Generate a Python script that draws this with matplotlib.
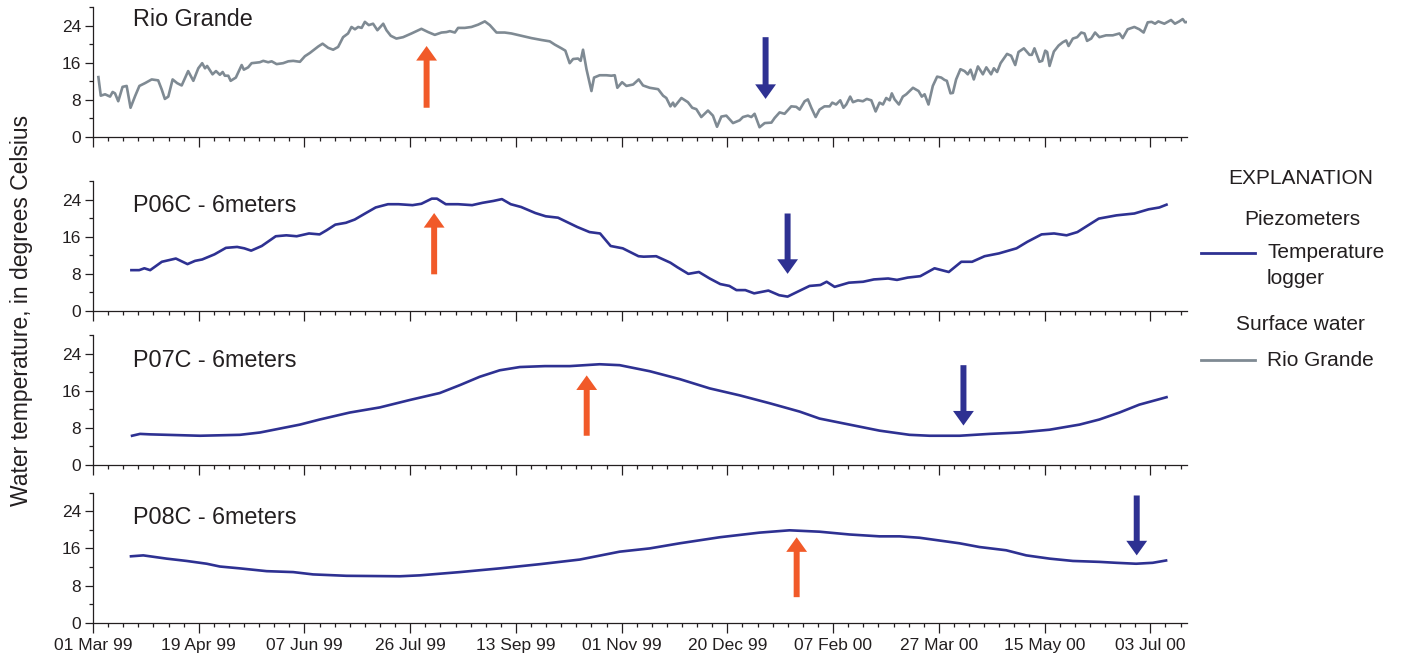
import datetime as dt
import numpy as np
import matplotlib
matplotlib.use("Agg")
import matplotlib.pyplot as plt
import matplotlib.dates as mdates
from matplotlib.lines import Line2D
from matplotlib.ticker import FixedLocator, NullFormatter

plt.rcParams['font.family'] = ['Liberation Sans', 'DejaVu Sans']

# ---------------- data (days after 01 Mar 1999, deg C) ----------------
start_date = "1999-03-01"

rio_days = [2.5, 3.6, 5.6, 7.9, 9.1, 10.2, 11.7, 13.7, 15.6, 17.4,
            19.5, 21.5, 24.1, 27.2, 30.2, 31.8, 33.3, 34.9, 36.9, 39.0,
            41.1, 44.1, 46.5, 48.8, 50.6, 51.9, 52.9, 55.4, 57.0, 58.8,
            60.1, 61.1, 62.7, 63.8, 66.2, 68.9, 69.9, 71.9, 73.5, 77.3,
            78.9, 81.2, 82.8, 85.1, 88.1, 90.5, 92.8, 95.9, 98.2, 100.5,
            104.4, 106.4, 109.0, 111.3, 113.6, 115.9, 118.2, 119.8, 121.4, 122.9,
            124.5, 126.0,
            127.8, 129.8, 131.8, 134.5, 136.0, 138.0, 140.6, 143.7, 147.6, 152.2,
            155.3, 158.4, 161.5, 163.8, 165.4, 167.7, 169.2, 172.3, 175.4, 178.5,
            181.6, 183.9, 187.0, 190.8, 193.9, 198.5, 203.2, 207.8, 211.7, 214.0,
            217.1, 218.9, 220.9, 222.5, 224.8, 226.0, 227.1, 228.7, 231.0, 232.2,
            234.8, 237.9, 240.2, 241.8, 243.0, 245.2, 247.2, 250.3, 252.9,
            254.9, 258.0, 261.9, 264.2, 265.7, 267.6, 268.8, 269.6, 272.7, 275.7,
            277.7, 279.6, 281.9, 285.0, 287.3, 289.2, 291.2, 293.5, 296.6, 299.7,
            301.2, 303.5, 305.1, 306.6, 308.9, 311.3, 314.4, 315.9, 318.2, 320.5,
            323.6, 325.9, 327.5, 329.8, 331.3, 332.9, 334.9, 336.7, 339.0, 341.4,
            342.6, 344.4, 346.3, 347.8, 349.1, 350.9, 352.2, 354.5, 356.8, 358.6,
            360.7, 362.7, 364.5, 366.1, 367.6, 369.2, 370.2, 371.5, 373.5, 375.3,
            376.9, 380.0,
            382.6, 384.1, 385.4, 387.2, 389.2, 391.2, 393.1, 394.6, 395.7, 397.4,
            398.5, 400.0, 402.0, 403.9, 405.4, 406.7, 408.2, 410.1, 412.4, 414.0,
            416.2, 417.5, 419.0, 420.6, 423.6, 425.5, 427.4, 428.9, 431.4, 434.0,
            435.1, 436.3, 438.6, 439.9, 441.3, 442.2, 443.3, 445.3, 447.5, 449.4,
            451.0, 452.1, 454.1, 456.1, 458.0, 459.5, 460.7, 462.6, 464.4, 466.4,
            469.5, 472.6, 475.7, 477.2, 479.5, 482.6, 484.9, 486.9, 488.8, 490.6,
            492.2, 493.7, 496.5, 499.6, 501.4, 503.4, 505.0, 506.1, 507.3]
rio_temp = [12.9, 8.9, 9.2, 8.7, 9.7, 9.4, 7.7, 10.8, 11.0, 6.3,
            8.8, 11.0, 11.6, 12.4, 12.2, 10.3, 8.2, 8.7, 12.4, 11.6,
            11.1, 14.2, 12.1, 14.8, 15.9, 14.8, 15.3, 13.5, 14.2, 13.4,
            14.0, 13.2, 13.2, 12.1, 12.8, 15.5, 14.5, 15.0, 15.9, 16.1,
            16.4, 16.1, 16.3, 15.7, 15.9, 16.3, 16.4, 16.2, 17.4, 18.1,
            19.5, 20.1, 19.2, 18.8, 19.4, 21.5, 22.3, 23.7, 23.2, 23.7,
            23.5, 24.8,
            24.1, 24.4, 23.0, 24.4, 23.0, 21.8, 21.2, 21.5, 22.3, 23.3,
            22.6, 22.0, 22.5, 22.6, 22.8, 22.5, 23.5, 23.5, 23.7, 24.2,
            24.9, 24.1, 22.5, 22.5, 22.3, 21.8, 21.3, 20.9, 20.6, 19.9,
            19.1, 18.6, 15.9, 16.8, 16.9, 16.4, 18.8, 14.6, 9.9, 12.8,
            13.3, 13.3, 13.2, 13.3, 10.6, 11.8, 11.0, 11.3, 12.4,
            11.1, 10.6, 10.3, 8.9, 8.4, 6.6, 7.4, 6.6, 8.4, 7.5,
            6.3, 6.0, 4.3, 5.7, 4.6, 2.2, 4.4, 4.6, 3.0, 3.6,
            4.3, 4.6, 4.3, 5.0, 2.1, 3.0, 3.1, 4.1, 5.3, 5.0,
            6.6, 6.5, 5.9, 7.7, 8.1, 6.3, 4.3, 5.9, 6.6, 6.6,
            7.4, 7.0, 7.9, 6.3, 7.0, 8.7, 7.5, 7.9, 7.7, 8.2,
            7.9, 5.5, 7.4, 7.0, 8.4, 7.9, 9.4, 8.1, 7.0, 8.7,
            9.2, 10.6,
            9.9, 8.7, 9.2, 7.0, 11.0, 13.0, 12.8, 12.3, 12.1, 9.4,
            9.5, 12.4, 14.6, 14.2, 13.5, 14.5, 12.4, 15.2, 13.5, 15.0,
            13.5, 14.8, 14.0, 15.9, 17.9, 17.5, 15.5, 18.3, 19.1, 17.7,
            17.7, 19.1, 16.2, 16.4, 18.6, 18.3, 15.3, 18.4, 19.7, 20.4,
            20.8, 19.6, 21.2, 21.5, 22.5, 22.3, 20.7, 21.2, 22.5, 21.5,
            21.9, 21.9, 22.3, 21.3, 23.2, 23.7, 23.2, 22.5, 24.7, 24.8,
            24.4, 24.9, 24.4, 25.2, 24.4, 24.9, 25.4, 24.7, 24.8]

p06_days = [17.8, 21.4, 23.8, 26.5, 31.9, 38.4, 43.8, 47.3, 50.6, 56.3,
            61.6, 66.8, 70.1, 73.3, 78.2, 84.7, 89.6, 94.4, 100.1, 105.0,
            108.3, 112.3, 117.2, 121.3, 126.1, 131.0, 136.7, 141.6, 148.1, 152.2,
            157.0, 159.4, 163.5, 169.2, 175.7, 180.5, 185.5, 189.5, 193.6, 198.4,
            205.0, 209.8, 215.5, 219.5, 224.4, 230.1, 235.0, 239.9, 245.5, 252.8,
            255.2, 261.0, 267.6, 270.9, 275.9, 280.8, 285.8, 290.7, 294.9, 298.2,
            302.3, 306.4, 313.0, 318.0, 321.9, 326.3, 332.1, 337.1, 340.0, 343.7,
            350.3, 356.9, 361.9, 368.5, 372.6, 377.6, 383.4, 390.0, 396.6, 402.4,
            407.4, 413.2, 419.8, 428.0, 433.0, 439.6, 445.4, 451.2, 456.2, 466.1,
            474.3, 482.6, 489.2, 494.2, 497.5]
p06_temp = [8.8, 8.8, 9.2, 8.8, 10.6, 11.3, 10.1, 10.8, 11.1, 12.2,
            13.6, 13.8, 13.5, 13.0, 14.0, 16.1, 16.3, 16.1, 16.7, 16.5,
            17.4, 18.6, 19.0, 19.7, 21.0, 22.3, 23.0, 23.0, 22.8, 23.1,
            24.2, 24.2, 23.0, 23.0, 22.8, 23.3, 23.7, 24.1, 23.0, 22.4,
            21.1, 20.4, 20.1, 19.2, 18.1, 17.0, 16.7, 14.0, 13.5, 11.8,
            11.7, 11.8, 10.4, 9.4, 8.0, 8.4, 7.0, 5.8, 5.4, 4.5,
            4.5, 3.8, 4.4, 3.4, 3.1, 4.1, 5.4, 5.6, 6.3, 5.2,
            6.1, 6.3, 6.8, 7.0, 6.7, 7.2, 7.5, 9.2, 8.4, 10.6,
            10.6, 11.8, 12.4, 13.5, 14.9, 16.5, 16.7, 16.3, 17.0, 19.9,
            20.6, 21.0, 21.9, 22.3, 22.9]

p07_days = [18.1, 21.8, 26.4, 49.6, 68.1, 77.4, 95.9, 105.1, 119.0, 132.9,
            146.8, 160.7, 170.0, 179.2, 188.5, 197.8, 209.4, 221.0, 234.8, 244.1,
            258.0, 271.9, 285.8, 299.7, 313.6, 327.5, 336.7, 350.6, 364.5, 378.4,
            387.7, 401.6, 415.5, 429.4, 443.3, 457.2, 466.4, 475.7, 484.9, 497.5]
p07_temp = [6.3, 6.7, 6.6, 6.3, 6.5, 7.0, 8.7, 9.8, 11.3, 12.4,
            14.0, 15.5, 17.2, 19.0, 20.4, 21.1, 21.3, 21.3, 21.7, 21.5,
            20.2, 18.5, 16.5, 15.0, 13.3, 11.5, 10.0, 8.7, 7.4, 6.5,
            6.3, 6.3, 6.7, 7.0, 7.6, 8.7, 9.8, 11.3, 13.0, 14.6]

p08_days = [17.6, 23.3, 34.1, 43.4, 52.7, 58.8, 68.1, 80.5, 92.8, 102.0,
            117.5, 142.2, 151.5, 170.0, 188.5, 207.0, 225.6, 244.1, 258.0, 271.9,
            290.4, 308.9, 322.8, 336.7, 350.6, 364.5, 373.8, 383.0, 392.3, 401.6,
            410.8, 423.2, 432.5, 443.3, 454.1, 466.4, 474.2, 483.4, 491.1, 497.3]
p08_temp = [14.3, 14.5, 13.8, 13.3, 12.7, 12.1, 11.7, 11.1, 10.9, 10.4,
            10.1, 10.0, 10.2, 10.9, 11.7, 12.6, 13.6, 15.3, 16.0, 17.1,
            18.4, 19.4, 19.9, 19.6, 19.0, 18.6, 18.6, 18.3, 17.7, 17.1,
            16.3, 15.6, 14.5, 13.8, 13.3, 13.1, 12.9, 12.7, 12.9, 13.4]

panel_titles = ["Rio Grande", "P06C - 6meters", "P07C - 6meters", "P08C - 6meters"]
tick_labels = ["01 Mar 99", "19 Apr 99", "07 Jun 99", "26 Jul 99", "13 Sep 99",
               "01 Nov 99", "20 Dec 99", "07 Feb 00", "27 Mar 00", "15 May 00",
               "03 Jul 00"]
# arrows: (day, tail temp, tip temp)
warm_arrows = [(154.6, 6.3, 19.6), (158.1, 7.9, 21.1), (228.8, 6.3, 19.3), (326.1, 5.5, 18.4)]
cold_arrows = [(311.7, 21.5, 8.2), (321.9, 21.0, 8.0), (403.4, 21.5, 8.5), (483.7, 27.4, 14.5)]

# ---------------- styling ----------------
BLUE = '#2e3192'
GREY = '#7f8a93'
ORANGE = '#f15a29'
TXT = '#231f20'

base = mdates.date2num(dt.datetime.strptime(start_date, "%Y-%m-%d"))
def d2n(days):
    return base + np.asarray(days, dtype=float)

series = [(rio_days, rio_temp, GREY), (p06_days, p06_temp, BLUE),
          (p07_days, p07_temp, BLUE), (p08_days, p08_temp, BLUE)]

W, H = 1407, 661
fig = plt.figure(figsize=(W / 100, H / 100), dpi=100)
left = 93 / W
width = (1187 - 93) / W
bottoms_px = [137, 311, 465, 622.7]
height = 130 / H
title_y = [0.85, 0.76, 0.755, 0.757]

major_ticks = [mdates.date2num(dt.datetime.strptime(s, "%d %b %y")) for s in tick_labels]
minor_ticks = np.arange(base, base + 508, 7)

for i, (dd, tt, col) in enumerate(series):
    ax = fig.add_axes([left, 1 - bottoms_px[i] / H, width, height])
    ax.plot(d2n(dd), tt, color=col, lw=1.9, solid_joinstyle='round')
    ax.set_xlim(base, base + 507)
    ax.set_ylim(0, 28)
    ax.spines['top'].set_visible(False)
    ax.spines['right'].set_visible(False)
    for s in ('left', 'bottom'):
        ax.spines[s].set_color(TXT)
        ax.spines[s].set_linewidth(0.9)
    ax.set_yticks([0, 8, 16, 24])
    ax.yaxis.set_minor_locator(FixedLocator([4, 12, 20, 28]))
    ax.xaxis.set_major_locator(FixedLocator(major_ticks))
    ax.xaxis.set_minor_locator(FixedLocator(minor_ticks))
    if i == 3:
        ax.set_xticklabels(tick_labels)
    else:
        ax.xaxis.set_major_formatter(NullFormatter())
    ax.tick_params(axis='y', which='major', length=5.5, width=0.9, pad=3,
                   labelsize=12.5, colors=TXT, direction='out')
    ax.tick_params(axis='y', which='minor', length=3, width=0.9, colors=TXT)
    ax.tick_params(axis='x', which='major', length=7.2, width=0.9, pad=4,
                   labelsize=12.5, colors=TXT, direction='out')
    ax.tick_params(axis='x', which='minor', length=3, width=0.9, colors=TXT)
    ax.text(0.0366, title_y[i], panel_titles[i], transform=ax.transAxes,
            fontsize=16.8, color=TXT, va='baseline', ha='left')

    wd, wt0, wt1 = warm_arrows[i]
    ax.annotate('', xy=(base + wd, wt1), xytext=(base + wd, wt0),
                arrowprops=dict(arrowstyle='simple,head_length=10.5,head_width=15,tail_width=4.3',
                                color=ORANGE, lw=0, shrinkA=0, shrinkB=0, mutation_scale=1))
    cd, ct0, ct1 = cold_arrows[i]
    ax.annotate('', xy=(base + cd, ct1), xytext=(base + cd, ct0),
                arrowprops=dict(arrowstyle='simple,head_length=10.5,head_width=15,tail_width=4.3',
                                color=BLUE, lw=0, shrinkA=0, shrinkB=0, mutation_scale=1))

fig.text(22 / W, 1 - 310 / H, "Water temperature, in degrees Celsius", rotation=90,
         ha='center', va='center', fontsize=16.5, color=TXT)

# explanation / legend
LFS = 15
fig.text(1301 / W, 1 - 179 / H, "EXPLANATION", ha='center', va='center', fontsize=LFS, color=TXT)
fig.text(1302 / W, 1 - 220 / H, "Piezometers", ha='center', va='center', fontsize=LFS, color=TXT)
fig.add_artist(Line2D([1201 / W, 1255 / W], [1 - 253 / H, 1 - 253 / H], color=BLUE, lw=2,
                      transform=fig.transFigure))
fig.text(1267 / W, 1 - 253 / H, "Temperature", ha='left', va='center', fontsize=LFS, color=TXT)
fig.text(1267 / W, 1 - 278 / H, "logger", ha='left', va='center', fontsize=LFS, color=TXT)
fig.text(1300 / W, 1 - 325 / H, "Surface water", ha='center', va='center', fontsize=LFS, color=TXT)
fig.add_artist(Line2D([1201 / W, 1255 / W], [1 - 360 / H, 1 - 360 / H], color=GREY, lw=2,
                      transform=fig.transFigure))
fig.text(1267 / W, 1 - 360 / H, "Rio Grande", ha='left', va='center', fontsize=LFS, color=TXT)

fig.savefig("out.png", dpi=100)
